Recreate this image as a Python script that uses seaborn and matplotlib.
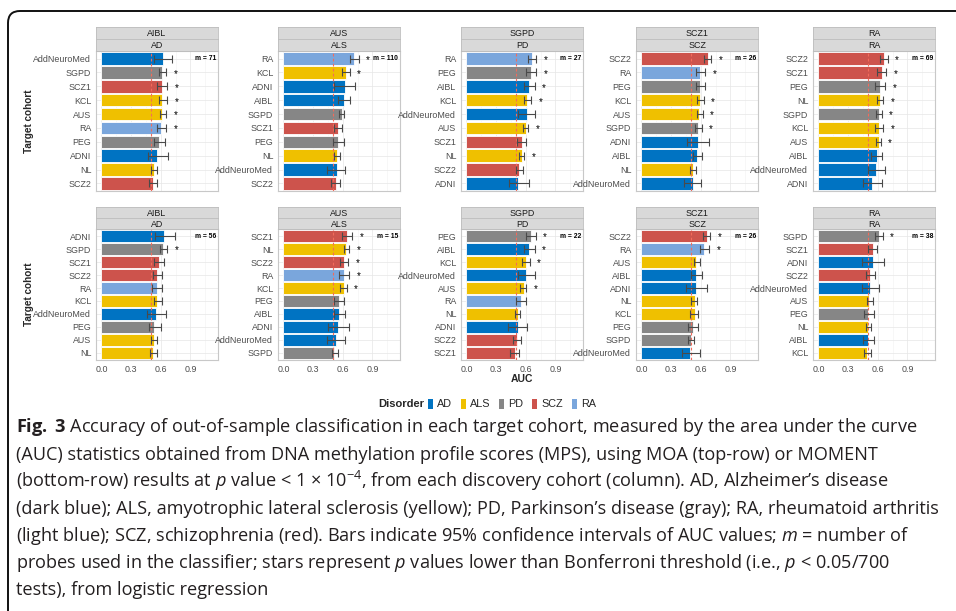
import numpy as np
import pandas as pd
import matplotlib
matplotlib.use('Agg')
import matplotlib.pyplot as plt
from matplotlib.patches import Patch, FancyBboxPatch
from matplotlib.transforms import IdentityTransform
import seaborn as sns

# cohort -> disorder, JCO-like palette
disorder_of = {'AddNeuroMed': 'AD', 'ADNI': 'AD', 'AIBL': 'AD',
               'AUS': 'ALS', 'KCL': 'ALS', 'NL': 'ALS',
               'SGPD': 'PD', 'PEG': 'PD',
               'SCZ1': 'SCZ', 'SCZ2': 'SCZ', 'RA': 'RA'}
disorders = ['AD', 'ALS', 'PD', 'SCZ', 'RA']
colors = ['#0073C2', '#EFC000', '#868686', '#CD534C', '#7AA6DC']

discovery = ['AIBL', 'AUS', 'SGPD', 'SCZ1', 'RA']
discovery_disorder = ['AD', 'ALS', 'PD', 'SCZ', 'RA']

'''top row: MOA'''
moa_aibl_cohort = ['AddNeuroMed', 'SGPD', 'SCZ1', 'KCL', 'AUS', 'RA', 'PEG', 'ADNI', 'NL', 'SCZ2']
moa_aibl_auc = [0.627, 0.617, 0.617, 0.617, 0.617, 0.607, 0.586, 0.566, 0.533, 0.526]
moa_aibl_lo = [0.533, 0.583, 0.563, 0.583, 0.59, 0.563, 0.529, 0.472, 0.506, 0.482]
moa_aibl_hi = [0.715, 0.657, 0.664, 0.664, 0.654, 0.654, 0.64, 0.67, 0.566, 0.566]
moa_aibl_star = [0, 1, 1, 1, 1, 1, 0, 0, 0, 0]

moa_aus_cohort = ['RA', 'KCL', 'ADNI', 'AIBL', 'SGPD', 'SCZ1', 'PEG', 'NL', 'AddNeuroMed', 'SCZ2']
moa_aus_auc = [0.715, 0.634, 0.624, 0.613, 0.593, 0.553, 0.553, 0.54, 0.54, 0.529]
moa_aus_lo = [0.67, 0.593, 0.516, 0.55, 0.563, 0.509, 0.499, 0.516, 0.445, 0.485]
moa_aus_hi = [0.762, 0.67, 0.728, 0.67, 0.617, 0.597, 0.613, 0.576, 0.627, 0.573]
moa_aus_star = [1, 1, 0, 0, 0, 0, 0, 0, 0, 0]

moa_sgpd_cohort = ['RA', 'PEG', 'AIBL', 'KCL', 'AddNeuroMed', 'AUS', 'SCZ1', 'NL', 'SCZ2', 'ADNI']
moa_sgpd_auc = [0.667, 0.657, 0.637, 0.617, 0.617, 0.6, 0.561, 0.561, 0.536, 0.526]
moa_sgpd_lo = [0.627, 0.607, 0.586, 0.586, 0.526, 0.573, 0.516, 0.533, 0.499, 0.431]
moa_sgpd_hi = [0.708, 0.704, 0.691, 0.657, 0.698, 0.623, 0.6, 0.586, 0.576, 0.634]
moa_sgpd_star = [1, 1, 1, 1, 0, 1, 0, 1, 0, 0]

moa_scz1_cohort = ['SCZ2', 'RA', 'PEG', 'KCL', 'AUS', 'SGPD', 'ADNI', 'AIBL', 'NL', 'AddNeuroMed']
moa_scz1_auc = [0.674, 0.597, 0.597, 0.597, 0.586, 0.576, 0.576, 0.56, 0.525, 0.525]
moa_scz1_lo = [0.63, 0.556, 0.549, 0.56, 0.56, 0.543, 0.465, 0.519, 0.492, 0.435]
moa_scz1_hi = [0.708, 0.647, 0.647, 0.63, 0.62, 0.61, 0.688, 0.617, 0.553, 0.603]
moa_scz1_star = [1, 1, 0, 1, 1, 1, 0, 0, 0, 0]

moa_ra_cohort = ['SCZ2', 'SCZ1', 'PEG', 'NL', 'SGPD', 'KCL', 'AUS', 'AIBL', 'AddNeuroMed', 'ADNI']
moa_ra_auc = [0.661, 0.64, 0.622, 0.622, 0.61, 0.61, 0.61, 0.593, 0.586, 0.546]
moa_ra_lo = [0.62, 0.593, 0.57, 0.593, 0.583, 0.57, 0.583, 0.529, 0.502, 0.452]
moa_ra_hi = [0.701, 0.684, 0.677, 0.654, 0.64, 0.654, 0.63, 0.647, 0.674, 0.647]
moa_ra_star = [1, 1, 1, 1, 1, 1, 1, 0, 0, 0]

moa_m = [71, 110, 27, 26, 69]

'''bottom row: MOMENT'''
moment_aibl_cohort = ['ADNI', 'SGPD', 'SCZ1', 'SCZ2', 'RA', 'KCL', 'AddNeuroMed', 'PEG', 'AUS', 'NL']
moment_aibl_auc = [0.637, 0.624, 0.583, 0.563, 0.563, 0.563, 0.553, 0.533, 0.529, 0.522]
moment_aibl_lo = [0.539, 0.59, 0.533, 0.522, 0.512, 0.529, 0.458, 0.482, 0.499, 0.492]
moment_aibl_hi = [0.741, 0.664, 0.63, 0.61, 0.61, 0.61, 0.65, 0.6, 0.566, 0.56]
moment_aibl_star = [0, 1, 0, 0, 0, 0, 0, 0, 0, 0]

moment_aus_cohort = ['SCZ1', 'NL', 'SCZ2', 'RA', 'KCL', 'PEG', 'AIBL', 'ADNI', 'AddNeuroMed', 'SGPD']
moment_aus_auc = [0.644, 0.634, 0.61, 0.61, 0.61, 0.563, 0.563, 0.553, 0.533, 0.512]
moment_aus_lo = [0.597, 0.61, 0.57, 0.566, 0.576, 0.509, 0.512, 0.455, 0.445, 0.492]
moment_aus_hi = [0.694, 0.667, 0.654, 0.667, 0.64, 0.613, 0.624, 0.661, 0.627, 0.549]
moment_aus_star = [1, 1, 1, 1, 1, 0, 0, 0, 0, 0]

moment_sgpd_cohort = ['PEG', 'AIBL', 'KCL', 'AddNeuroMed', 'AUS', 'RA', 'NL', 'ADNI', 'SCZ2', 'SCZ1']
moment_sgpd_auc = [0.657, 0.637, 0.607, 0.607, 0.583, 0.556, 0.519, 0.519, 0.509, 0.489]
moment_sgpd_lo = [0.607, 0.586, 0.566, 0.526, 0.543, 0.506, 0.489, 0.418, 0.468, 0.445]
moment_sgpd_hi = [0.701, 0.691, 0.64, 0.698, 0.607, 0.603, 0.539, 0.617, 0.549, 0.536]
moment_sgpd_star = [1, 1, 1, 0, 1, 0, 0, 0, 0, 0]

moment_scz1_cohort = ['SCZ2', 'RA', 'AUS', 'AIBL', 'ADNI', 'NL', 'KCL', 'PEG', 'SGPD', 'AddNeuroMed']
moment_scz1_auc = [0.664, 0.637, 0.556, 0.556, 0.556, 0.539, 0.539, 0.522, 0.506, 0.495]
moment_scz1_lo = [0.624, 0.593, 0.529, 0.506, 0.448, 0.506, 0.495, 0.475, 0.475, 0.408]
moment_scz1_hi = [0.698, 0.684, 0.59, 0.61, 0.667, 0.566, 0.576, 0.576, 0.529, 0.59]
moment_scz1_star = [1, 1, 0, 0, 0, 0, 0, 0, 0, 0]

moment_ra_cohort = ['SGPD', 'SCZ1', 'ADNI', 'SCZ2', 'AddNeuroMed', 'AUS', 'PEG', 'NL', 'AIBL', 'KCL']
moment_ra_auc = [0.61, 0.553, 0.553, 0.526, 0.526, 0.516, 0.506, 0.506, 0.506, 0.495]
moment_ra_lo = [0.576, 0.502, 0.445, 0.485, 0.438, 0.492, 0.458, 0.485, 0.452, 0.458]
moment_ra_hi = [0.65, 0.597, 0.664, 0.57, 0.617, 0.549, 0.559, 0.536, 0.559, 0.536]
moment_ra_star = [1, 0, 0, 0, 0, 0, 0, 0, 0, 0]

moment_m = [56, 15, 22, 26, 38]

top_row = [
    (moa_aibl_cohort, moa_aibl_auc, moa_aibl_lo, moa_aibl_hi, moa_aibl_star),
    (moa_aus_cohort, moa_aus_auc, moa_aus_lo, moa_aus_hi, moa_aus_star),
    (moa_sgpd_cohort, moa_sgpd_auc, moa_sgpd_lo, moa_sgpd_hi, moa_sgpd_star),
    (moa_scz1_cohort, moa_scz1_auc, moa_scz1_lo, moa_scz1_hi, moa_scz1_star),
    (moa_ra_cohort, moa_ra_auc, moa_ra_lo, moa_ra_hi, moa_ra_star),
]
bottom_row = [
    (moment_aibl_cohort, moment_aibl_auc, moment_aibl_lo, moment_aibl_hi, moment_aibl_star),
    (moment_aus_cohort, moment_aus_auc, moment_aus_lo, moment_aus_hi, moment_aus_star),
    (moment_sgpd_cohort, moment_sgpd_auc, moment_sgpd_lo, moment_sgpd_hi, moment_sgpd_star),
    (moment_scz1_cohort, moment_scz1_auc, moment_scz1_lo, moment_scz1_hi, moment_scz1_star),
    (moment_ra_cohort, moment_ra_auc, moment_ra_lo, moment_ra_hi, moment_ra_star),
]

caption_lines = [
    r'$\mathbf{Fig.}$ $\mathbf{3}$ Accuracy of out-of-sample classification in each target cohort, measured by the area under the curve',
    '(AUC) statistics obtained from DNA methylation profile scores (MPS), using MOA (top-row) or MOMENT',
    r'(bottom-row) results at $p$ value < 1 $\times$ 10$^{-4}$, from each discovery cohort (column). AD, Alzheimer’s disease',
    '(dark blue); ALS, amyotrophic lateral sclerosis (yellow); PD, Parkinson’s disease (gray); RA, rheumatoid arthritis',
    r'(light blue); SCZ, schizophrenia (red). Bars indicate 95% confidence intervals of AUC values; $m$ = number of',
    r'probes used in the classifier; stars represent $p$ values lower than Bonferroni threshold (i.e., $p$ < 0.05/700',
    'tests), from logistic regression',
]

sns.set_theme(style='white')
plt.rcParams['font.family'] = ['Liberation Sans', 'DejaVu Sans']
plt.rcParams['mathtext.fontset'] = 'custom'
plt.rcParams['mathtext.rm'] = 'Open Sans'
plt.rcParams['mathtext.it'] = 'Open Sans:italic'
plt.rcParams['mathtext.bf'] = 'Open Sans:bold'

W, H = 956, 611
fig = plt.figure(figsize=(W / 100, H / 100), dpi=100)
fig.patch.set_facecolor('white')

pal = dict(zip(disorders, colors))
col_left = [96, 278, 461, 636, 813]
panel_w = 122
rows = [(27, 51, 191), (207, 229, 360)]  # strip top, panel top, panel bottom
lab_size = 6.4


def box(x, y0, y1):
    return [x / W, 1 - y1 / H, panel_w / W, (y1 - y0) / H]


def draw_panel(ax, cohort, auc, lo, hi, star, m, show_x):
    df = pd.DataFrame({'cohort': cohort, 'auc': auc,
                       'disorder': [disorder_of[c] for c in cohort]})
    sns.barplot(data=df, x='auc', y='cohort', hue='disorder', palette=pal,
                hue_order=disorders, order=cohort, dodge=False, width=0.9,
                orient='h', saturation=1, edgecolor='white', linewidth=0.6,
                legend=False, ax=ax, zorder=2)
    ypos = np.arange(len(cohort))
    auc = np.array(auc)
    ax.axvline(0.5, color='#F26B5B', ls=(0, (2.5, 2)), lw=0.8, zorder=3)
    ax.errorbar(auc, ypos, xerr=[auc - np.array(lo), np.array(hi) - auc],
                fmt='none', ecolor='#4A4A4A', elinewidth=0.8, capsize=2.6,
                capthick=0.8, zorder=4)
    for y, h, s in zip(ypos, hi, star):
        if s:
            ax.text(h + 0.095, y + 0.1, '*', ha='center', va='center',
                    fontsize=7, color='black', zorder=5)
    ax.text(0.985, 0, 'm = %d' % m, transform=ax.get_yaxis_transform(),
            ha='right', va='center', fontsize=4.9, fontweight='bold', color='black')
    ax.set_xlim(-0.055, 1.18)
    ax.set_ylim(len(cohort) - 0.45, -0.55)
    ax.set_xticks([0.0, 0.3, 0.6, 0.9])
    ax.set_xticks([0.15, 0.45, 0.75, 1.05], minor=True)
    ax.grid(which='major', color='#E6E6E6', lw=0.5, zorder=0)
    ax.grid(which='minor', axis='x', color='#F2F2F2', lw=0.4, zorder=0)
    ax.set_axisbelow(True)
    ax.set_xlabel('')
    ax.set_ylabel('')
    for sp in ax.spines.values():
        sp.set_color('#C8C8C8')
        sp.set_linewidth(0.8)
    ax.tick_params(axis='both', which='major', length=2.2, width=0.5,
                   color='#4D4D4D', labelsize=lab_size, labelcolor='#4D4D4D', pad=1.2)
    ax.tick_params(which='minor', length=0)
    if show_x:
        ax.set_xticklabels(['0.0', '0.3', '0.6', '0.9'])
    else:
        ax.tick_params(axis='x', which='major', length=0, labelbottom=False)


def draw_strip(y0, y1, x, label):
    sax = fig.add_axes(box(x, y0, y1))
    sax.set_facecolor('#D9D9D9')
    sax.set_xticks([])
    sax.set_yticks([])
    for sp in sax.spines.values():
        sp.set_color('#BDBDBD')
        sp.set_linewidth(0.6)
    sax.text(0.5, 0.45, label, ha='center', va='center', fontsize=lab_size,
             color='#1A1A1A', transform=sax.transAxes)


for r, (row_data, m_list) in enumerate([(top_row, moa_m), (bottom_row, moment_m)]):
    s_top, p_top, p_bot = rows[r]
    s_mid = (s_top + p_top) / 2
    for c in range(5):
        ax = fig.add_axes(box(col_left[c], p_top, p_bot))
        cohort, auc, lo, hi, star = row_data[c]
        draw_panel(ax, cohort, auc, lo, hi, star, m_list[c], show_x=(r == 1))
        draw_strip(s_top, s_mid, col_left[c], discovery[c])
        draw_strip(s_mid, p_top, col_left[c], discovery_disorder[c])
    fig.text(29 / W, 1 - (p_top + p_bot) / 2 / H, 'Target cohort', rotation=90,
             ha='center', va='center', fontsize=7.2, fontweight='bold')

fig.text((col_left[2] + panel_w / 2) / W, 1 - 379 / H, 'AUC', ha='center',
         va='center', fontsize=7.5, fontweight='bold')

# legend
handles = [Patch(facecolor=col, edgecolor='none', label=d) for d, col in zip(disorders, colors)]
fig.text(424 / W, 1 - 404 / H, 'Disorder', ha='right', va='center',
         fontsize=8, fontweight='bold')
fig.legend(handles=handles, loc='center left', bbox_to_anchor=(428 / W, 1 - 404 / H),
           ncol=5, frameon=False, fontsize=7.8, handlelength=0.45, handleheight=1.1,
           handletextpad=0.4, columnspacing=0.8, borderpad=0, borderaxespad=0)

# caption
for i, line in enumerate(caption_lines):
    fig.text(16 / W, 1 - (432.5 + 27.1 * i) / H, line, ha='left', va='baseline',
             fontsize=13.1, family='Open Sans', color='#231F20')

# outer frame with rounded corner
frame = FancyBboxPatch((8, -60), 1200, H - 11 + 60,
                       boxstyle='round,pad=0,rounding_size=12',
                       transform=IdentityTransform(), fill=False, lw=1.4,
                       ec='#111111')
fig.patches.append(frame)

fig.savefig('out.png', dpi=100)
